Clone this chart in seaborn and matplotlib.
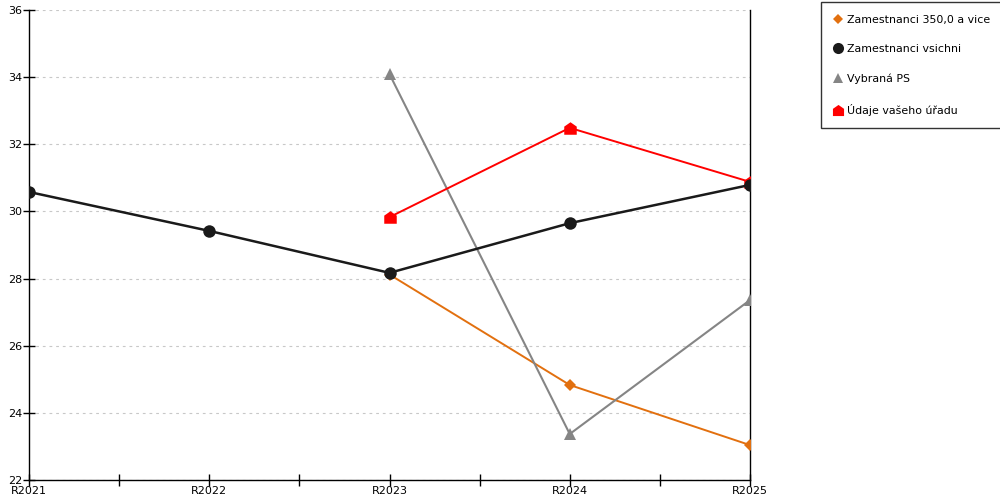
import pandas as pd
import matplotlib.pyplot as plt
import seaborn as sns
from matplotlib.lines import Line2D
from matplotlib.ticker import FixedLocator

# Data
years = ["R2021", "R2022", "R2023", "R2024", "R2025"]
vsichni = [30.58, 29.42, 28.17, 29.65, 30.79]
nad350 = [None, None, 28.12, 24.83, 23.04]
vybrana_ps = [None, None, 34.09, 23.37, 27.36]
urad = [None, None, 29.83, 32.49, 30.88]

labels = ["Zamestnanci 350,0 a vice", "Zamestnanci vsichni", "Vybraná PS", "Údaje vašeho úřadu"]
colors = ["#e2700f", "#1a1a1a", "#858585", "#ff0000"]

# house-shaped marker like the original
house = [(-1, -1), (1, -1), (1, 0.3), (0, 1), (-1, 0.3), (-1, -1)]
markers = ["D", "o", "^", house]
msizes = [6, 9, 8, 9]
lwidths = [1.4, 1.8, 1.5, 1.4]

sns.set_style("white")
plt.rcParams["font.family"] = ["DejaVu Sans"]
plt.rcParams["text.color"] = "black"

fig = plt.figure(figsize=(10, 5), dpi=100)
ax = fig.add_axes([0.029, 0.04, 0.721, 0.94])

series = [nad350, vsichni, vybrana_ps, urad]
# draw full series first so categories are in order
order = [1, 0, 2, 3]
for i in order:
    df = pd.DataFrame({"rok": years, "val": series[i]}).dropna()
    sns.lineplot(data=df, x="rok", y="val", ax=ax, color=colors[i], lw=lwidths[i],
                 marker=markers[i], markersize=msizes[i], markeredgewidth=0,
                 zorder=3 if i != 1 else 4)

ax.set_xlim(0, len(years) - 1)
ax.set_ylim(22, 36)
ax.set_yticks(range(22, 37, 2))
ax.xaxis.set_minor_locator(FixedLocator([0.5, 1.5, 2.5, 3.5]))
ax.tick_params(axis="both", which="both", direction="inout", length=8, width=1,
               labelsize=8, color="black", labelcolor="black", bottom=True, left=True)
ax.tick_params(axis="y", pad=1)
ax.tick_params(axis="x", which="major", pad=0)
ax.set_xlabel("")
ax.set_ylabel("")
ax.grid(axis="y", linestyle=(0, (2.5, 3.5)), color="#c8c8c8", lw=0.8)
for s in ["left", "bottom", "right"]:
    ax.spines[s].set_visible(True)
    ax.spines[s].set_color("black")
    ax.spines[s].set_linewidth(1)
ax.spines["top"].set_visible(False)

handles = [Line2D([], [], ls="none", marker=markers[i], color=colors[i],
                  markersize=msizes[i] - 1, markeredgewidth=0) for i in range(4)]
leg = fig.legend(handles, labels, loc="upper left", bbox_to_anchor=(0.821, 0.996),
                 frameon=True, fancybox=False, fontsize=7.9, labelspacing=1.78,
                 handlelength=0.8, handletextpad=0.4, borderpad=1.15, borderaxespad=0)
leg.get_frame().set_edgecolor("black")
leg.get_frame().set_linewidth(1)

fig.savefig("out.png", dpi=100)
